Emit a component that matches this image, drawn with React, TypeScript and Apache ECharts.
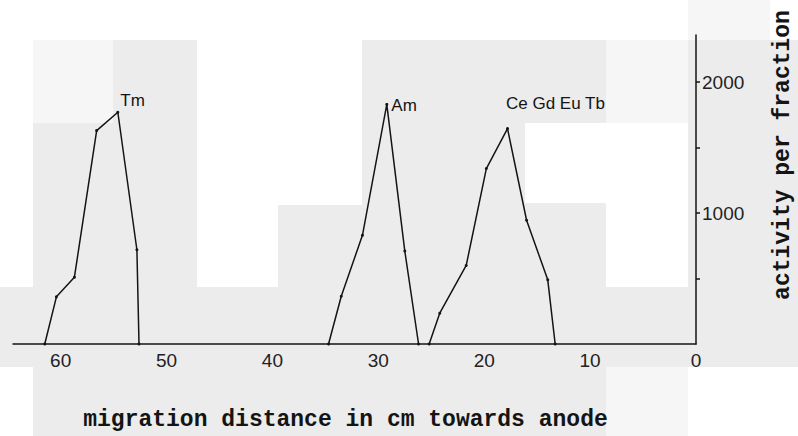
import React, { useEffect, useRef } from "react";
import * as echarts from "echarts";

// Migration distance (cm towards anode) and activity per fraction for each band
const tmDistance = [61.5, 60.4, 58.7, 56.6, 54.6, 52.8, 52.6];
const tmActivity = [0, 360, 510, 1630, 1770, 720, 0];

const amDistance = [34.7, 33.5, 31.5, 29.2, 27.5, 26.2];
const amActivity = [0, 365, 830, 1830, 710, 0];

const ceDistance = [25.2, 24.2, 21.7, 19.8, 17.8, 16.0, 14.0, 13.3];
const ceActivity = [0, 235, 600, 1340, 1645, 945, 490, 0];

const bandLabels = ["Tm", "Am", "Ce Gd Eu Tb"];

const xTicks = [0, 10, 20, 30, 40, 50, 60];
const yTicks = [500, 1000, 1500, 2000];
const yLabels = [1000, 2000];

const xTitle = "migration distance in cm towards anode";
const yTitle = "activity per fraction";

// Scanned-paper tone panels behind the plot
const GRAY = "#ececec";
const LIGHT = "#f6f6f6";
const panels: [number, number, number, number, string][] = [
  [33, 40, 80, 83, LIGHT],
  [113, 40, 84, 83, GRAY],
  [33, 123, 164, 164, GRAY],
  [278, 205, 84, 82, GRAY],
  [362, 40, 244, 83, GRAY],
  [606, 40, 82, 83, LIGHT],
  [362, 123, 163, 80, GRAY],
  [362, 203, 244, 84, GRAY],
  [688, 40, 110, 327, GRAY],
  [0, 287, 688, 80, GRAY],
  [33, 367, 573, 69, GRAY],
  [606, 367, 82, 69, LIGHT],
  [688, 0, 82, 40, LIGHT],
];

const INK = "#141414";
const MONO = "'Liberation Mono', 'DejaVu Sans Mono', monospace";
const SANS = "'Liberation Sans', Arial, sans-serif";

function band(
  dist: number[],
  act: number[],
  name: string,
  labelOffset: number[]
) {
  const peak = act.indexOf(Math.max(...act));
  return {
    type: "line",
    name,
    symbol: "circle",
    symbolSize: 3,
    showSymbol: true,
    z: 5,
    lineStyle: { color: INK, width: 1.5 },
    itemStyle: { color: INK },
    data: dist.map((d, i) =>
      i === peak
        ? {
            value: [d, act[i]],
            label: {
              show: true,
              formatter: name,
              position: "right",
              offset: labelOffset,
              distance: 3,
              color: INK,
              fontFamily: SANS,
              fontSize: 17,
            },
          }
        : { value: [d, act[i]] }
    ),
  };
}

export default function App() {
  const ref = useRef<HTMLDivElement>(null);

  useEffect(() => {
    if (!ref.current) return;
    const chart = echarts.init(ref.current, null, { renderer: "svg" });
    chart.setOption({
      animation: false,
      backgroundColor: "#ffffff",
      grid: { left: 13, right: 102, top: 35, bottom: 91 },
      xAxis: {
        type: "value",
        inverse: true,
        min: 0,
        max: 64.5,
        interval: 10,
        name: xTitle,
        nameLocation: "middle",
        nameGap: 64,
        nameTextStyle: {
          fontFamily: MONO,
          fontSize: 23,
          fontWeight: "bold",
          color: INK,
          padding: [0, 18, 0, 0],
        },
        axisLine: { show: true, onZero: false, lineStyle: { color: INK, width: 1.5 } },
        axisTick: { show: false },
        splitLine: { show: false },
        axisLabel: {
          margin: 7,
          color: "#222",
          fontFamily: SANS,
          fontSize: 19,
          customValues: xTicks,
          formatter: (v: number) => String(v),
        },
      },
      yAxis: {
        type: "value",
        position: "right",
        min: 0,
        max: 2360,
        interval: 500,
        axisLine: { show: true, lineStyle: { color: INK, width: 1.5 } },
        axisTick: { show: true, length: 4, customValues: yTicks, lineStyle: { color: INK, width: 1.5 } },
        splitLine: { show: false },
        axisLabel: {
          margin: 6,
          color: "#222",
          fontFamily: SANS,
          fontSize: 19,
          customValues: yLabels,
          formatter: (v: number) => String(v),
        },
      },
      graphic: [
        ...panels.map(([x, y, w, h, c]) => ({
          type: "rect",
          z: -10,
          silent: true,
          shape: { x, y, width: w, height: h },
          style: { fill: c },
        })),
        {
          type: "text",
          x: 783,
          y: 155,
          rotation: Math.PI / 2,
          z: 10,
          style: {
            text: yTitle,
            fontFamily: MONO,
            fontSize: 23,
            fontWeight: "bold",
            fill: INK,
            align: "center",
            verticalAlign: "middle",
          },
        },
      ],
      series: [
        band(tmDistance, tmActivity, bandLabels[0], [-2, -12]),
        band(amDistance, amActivity, bandLabels[1], [0, 1]),
        band(ceDistance, ceActivity, bandLabels[2], [-6, -25]),
      ],
    });
    return () => chart.dispose();
  }, []);

  return (
    <div
      ref={ref}
      style={{ position: "absolute", left: 0, top: 0, width: 798, height: 436 }}
    />
  );
}
